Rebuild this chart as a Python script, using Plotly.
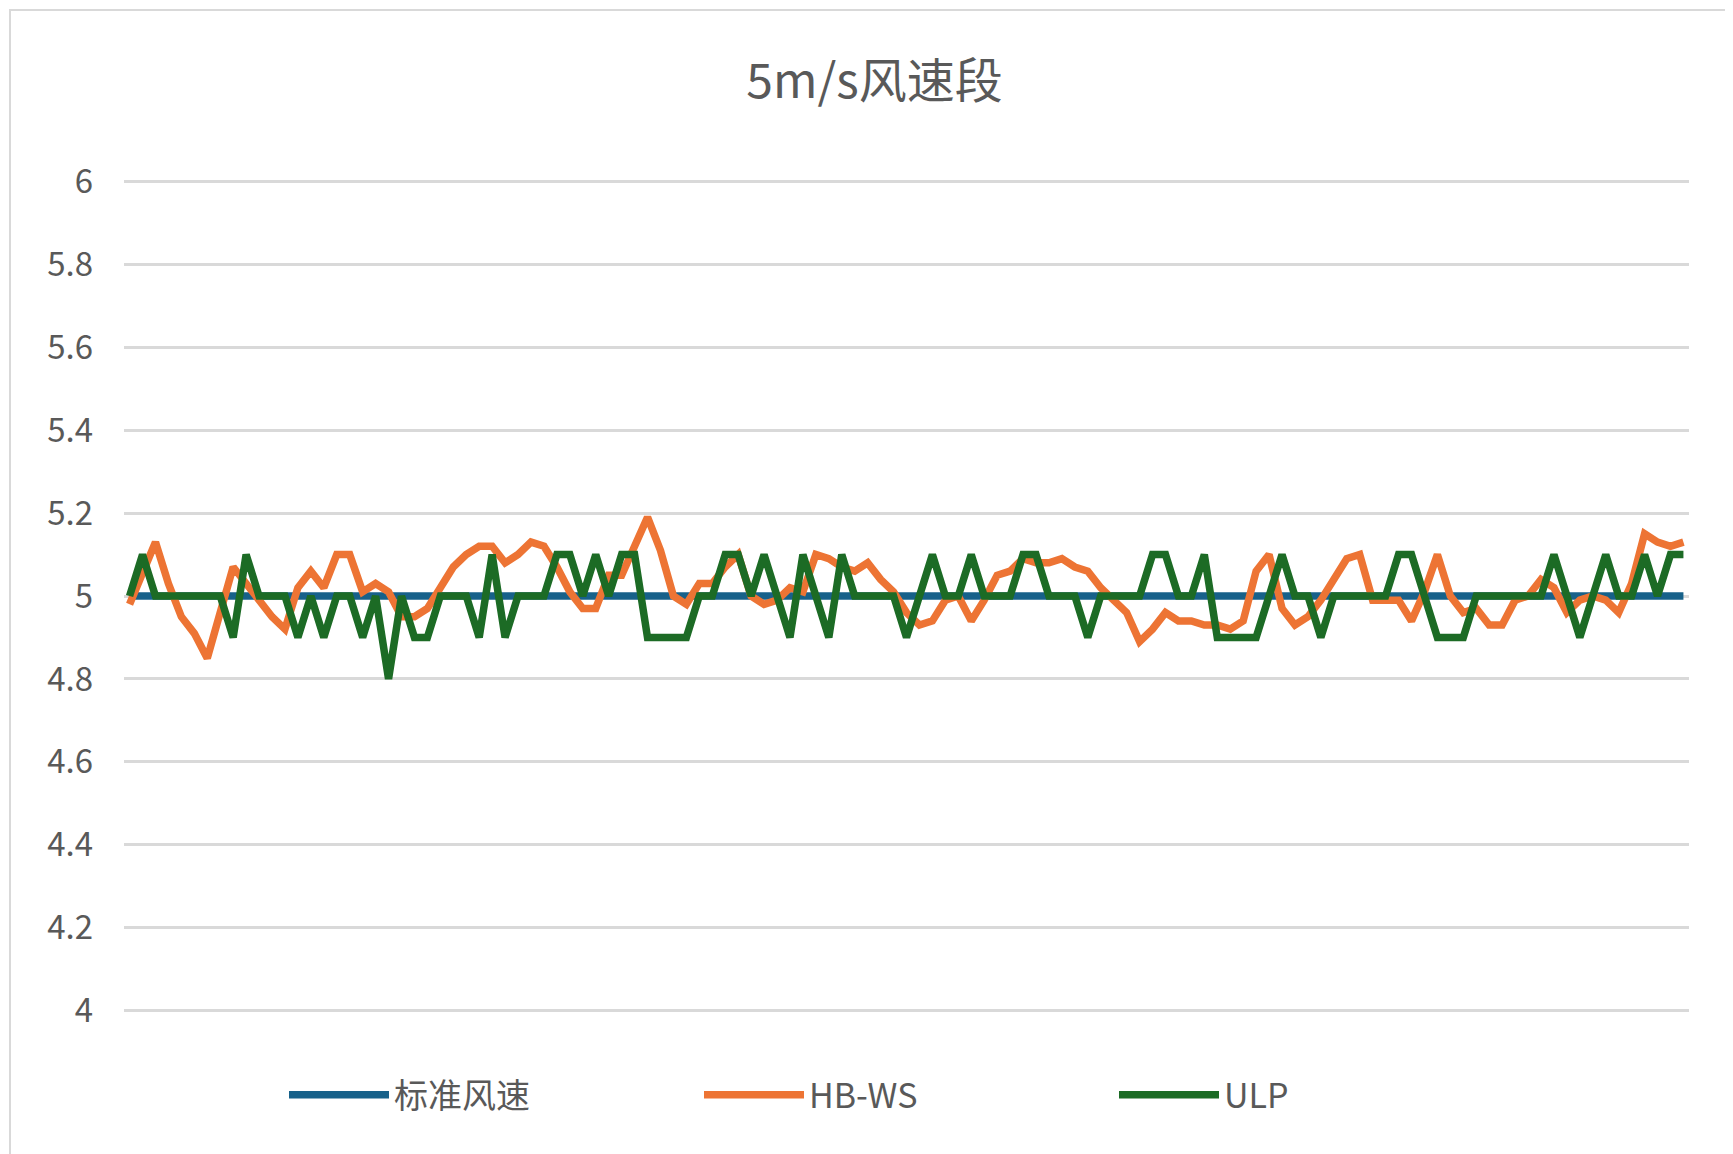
import plotly.graph_objects as go

# sample index (x axis categories, no labels shown)
samples = list(range(1, 122))

standard = [5.0] * 121

hb_ws = [
    4.98, 5.05, 5.13, 5.03, 4.95, 4.91, 4.85, 4.96, 5.07, 5.03,
    4.99, 4.95, 4.92, 5.02, 5.06, 5.02, 5.10, 5.10, 5.01, 5.03,
    5.01, 4.95, 4.95, 4.97, 5.02, 5.07, 5.10, 5.12, 5.12, 5.08,
    5.10, 5.13, 5.12, 5.07, 5.01, 4.97, 4.97, 5.05, 5.05, 5.12,
    5.19, 5.11, 5.00, 4.98, 5.03, 5.03, 5.07, 5.10, 5.00, 4.98,
    4.99, 5.02, 5.01, 5.10, 5.09, 5.07, 5.06, 5.08, 5.04, 5.01,
    4.96, 4.93, 4.94, 4.99, 5.00, 4.94, 4.99, 5.05, 5.06, 5.09,
    5.08, 5.08, 5.09, 5.07, 5.06, 5.02, 4.99, 4.96, 4.89, 4.92,
    4.96, 4.94, 4.94, 4.93, 4.93, 4.92, 4.94, 5.06, 5.10, 4.97,
    4.93, 4.95, 4.99, 5.04, 5.09, 5.10, 4.99, 4.99, 4.99, 4.94,
    5.01, 5.10, 5.00, 4.96, 4.97, 4.93, 4.93, 4.99, 5.00, 5.04,
    5.02, 4.96, 4.99, 5.00, 4.99, 4.96, 5.03, 5.15, 5.13, 5.12,
    5.13,
]

ulp = [
    5.0, 5.1, 5.0, 5.0, 5.0, 5.0, 5.0, 5.0, 4.9, 5.1,
    5.0, 5.0, 5.0, 4.9, 5.0, 4.9, 5.0, 5.0, 4.9, 5.0,
    4.8, 5.0, 4.9, 4.9, 5.0, 5.0, 5.0, 4.9, 5.1, 4.9,
    5.0, 5.0, 5.0, 5.1, 5.1, 5.0, 5.1, 5.0, 5.1, 5.1,
    4.9, 4.9, 4.9, 4.9, 5.0, 5.0, 5.1, 5.1, 5.0, 5.1,
    5.0, 4.9, 5.1, 5.0, 4.9, 5.1, 5.0, 5.0, 5.0, 5.0,
    4.9, 5.0, 5.1, 5.0, 5.0, 5.1, 5.0, 5.0, 5.0, 5.1,
    5.1, 5.0, 5.0, 5.0, 4.9, 5.0, 5.0, 5.0, 5.0, 5.1,
    5.1, 5.0, 5.0, 5.1, 4.9, 4.9, 4.9, 4.9, 5.0, 5.1,
    5.0, 5.0, 4.9, 5.0, 5.0, 5.0, 5.0, 5.0, 5.1, 5.1,
    5.0, 4.9, 4.9, 4.9, 5.0, 5.0, 5.0, 5.0, 5.0, 5.0,
    5.1, 5.0, 4.9, 5.0, 5.1, 5.0, 5.0, 5.1, 5.0, 5.1,
    5.1,
]

y_ticks = [4, 4.2, 4.4, 4.6, 4.8, 5, 5.2, 5.4, 5.6, 5.8, 6]

FONT = 'Noto Sans CJK SC, Noto Sans, sans-serif'
W, H = 1733, 1154
ML, MR, MT, MB = 116, 52, 172, 150
PW, PH = W - ML - MR, H - MT - MB

fig = go.Figure()
fig.add_trace(go.Scatter(x=samples, y=standard, mode='lines', name='标准风速',
                         line=dict(color='#17618a', width=7.5)))
fig.add_trace(go.Scatter(x=samples, y=hb_ws, mode='lines', name='HB-WS',
                         line=dict(color='#ed7434', width=7.5)))
fig.add_trace(go.Scatter(x=samples, y=ulp, mode='lines', name='ULP',
                         line=dict(color='#1c6b25', width=7.5)))

fig.update_layout(
    width=W, height=H,
    paper_bgcolor='white', plot_bgcolor='white',
    margin=dict(l=ML, r=MR, t=MT, b=MB),
    font=dict(family=FONT, color='#595959'),
    title=dict(text='5m/s风速段', x=0.5, xanchor='center', y=0.937, yanchor='middle',
               font=dict(size=48, color='#595959')),
    showlegend=True,
    legend=dict(orientation='h', x=0.5, xanchor='center', y=-0.1, yanchor='middle',
                font=dict(size=34, color='#595959'), itemwidth=100,
                traceorder='normal', entrywidth=300, entrywidthmode='pixels'),
    xaxis=dict(range=[0.57, 121.43], showticklabels=False, showgrid=False,
               zeroline=False, showline=False, ticks=''),
    yaxis=dict(range=[3.997, 6.003], tickvals=y_ticks, ticktext=[f'{v:g}' for v in y_ticks],
               showgrid=True, gridcolor='#d9d9d9', gridwidth=2.5,
               zeroline=False, showline=False, ticks='', ticklabelstandoff=30,
               tickfont=dict(size=33, color='#595959')),
    shapes=[dict(type='rect', xref='paper', yref='paper',
                 x0=-(ML - 2) / PW, x1=1 + (MR - 2) / PW,
                 y0=-(MB - 2) / PH, y1=1 + (MT - 2) / PH,
                 line=dict(color='#d9d9d9', width=2))],
)

fig.write_html("out.html")
